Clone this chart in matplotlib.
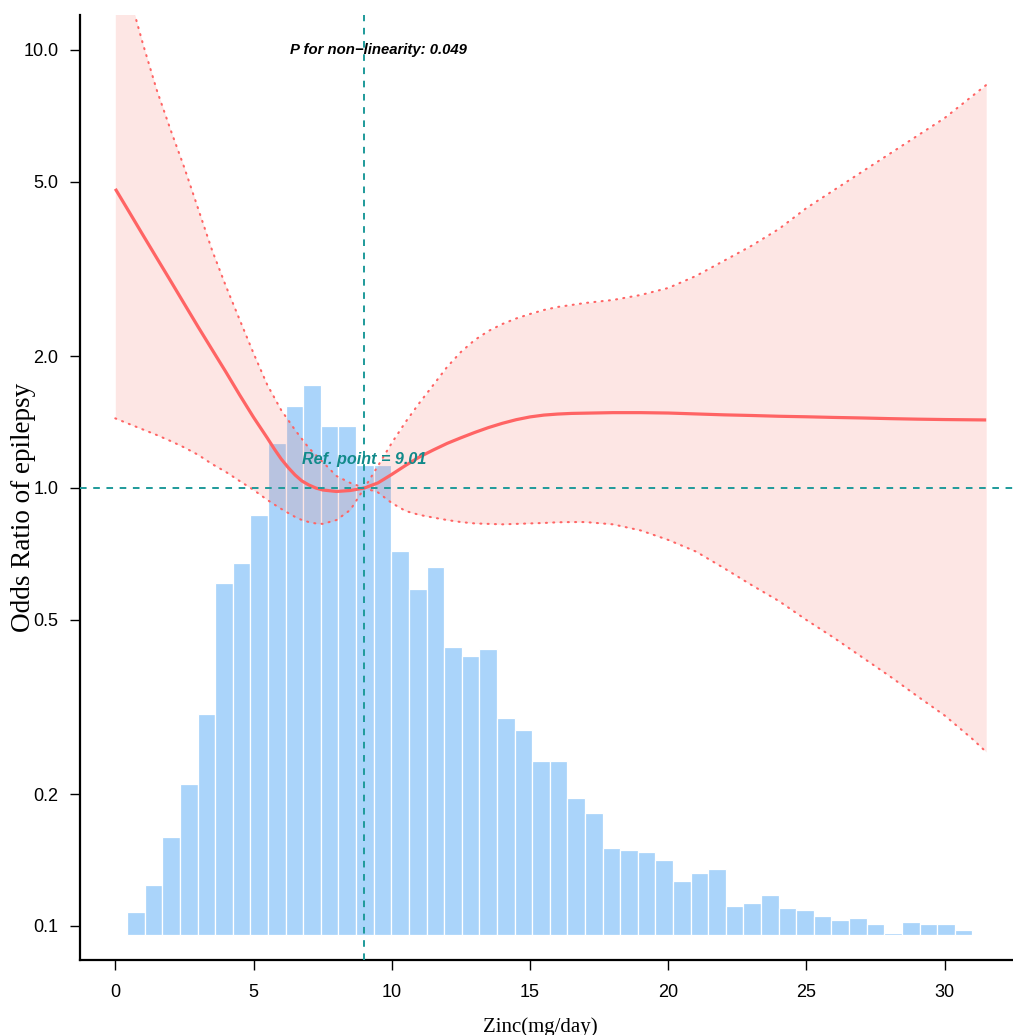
import numpy as np
import matplotlib
matplotlib.use("Agg")
import matplotlib.pyplot as plt

# ---------------- data ----------------
zinc = [0, 0.5, 1, 1.5, 2, 2.5, 3, 3.5, 4, 4.5, 5, 5.5,
        5.75, 6, 6.25, 6.5, 6.75, 7, 7.25, 7.5,
        8, 8.5, 9.01,
        9.5, 10, 10.5, 11, 11.5, 12, 12.5, 13, 13.5, 14,
        14.5, 15, 15.5, 16, 16.5, 17,
        18, 19, 20, 21, 22, 23, 24, 25, 26, 27, 28, 29, 30, 31,
        31.5]
or_fit = [4.82, 4.27, 3.78, 3.35, 2.97, 2.63, 2.33, 2.07, 1.84, 1.63, 1.45, 1.30,
          1.228, 1.165, 1.114, 1.071, 1.0375, 1.016, 1.0, 0.9895,
          0.9818, 0.9869, 1.0,
          1.027, 1.074, 1.126, 1.177, 1.221, 1.264, 1.302, 1.339, 1.374, 1.405,
          1.432, 1.453, 1.467, 1.475, 1.480, 1.482,
          1.486, 1.486, 1.483, 1.476, 1.469, 1.464, 1.458, 1.454, 1.449, 1.445,
          1.440, 1.436, 1.433, 1.431,
          1.430]
or_upper = [17.5, 13.4, 10.32, 8.10, 6.57, 5.38, 4.335, 3.49, 2.89, 2.42, 2.03, 1.718,
            1.609, 1.506, 1.430, 1.357, 1.294, 1.234, 1.190, 1.147,
            1.065, 1.027, 1.0,
            1.123, 1.267, 1.415, 1.564, 1.718, 1.889, 2.044, 2.177, 2.283, 2.368,
            2.438, 2.496, 2.549, 2.590, 2.617, 2.645,
            2.687, 2.758, 2.862, 3.048, 3.298, 3.569, 3.902, 4.357, 4.790, 5.267,
            5.789, 6.364, 6.995, 7.852,
            8.319]
or_lower = [1.442, 1.400, 1.360, 1.321, 1.280, 1.237, 1.190, 1.134, 1.088, 1.037, 0.990, 0.939,
            0.917, 0.896, 0.877, 0.859, 0.845, 0.836, 0.830, 0.828,
            0.845, 0.891, 1.0,
            0.977, 0.924, 0.886, 0.868, 0.856, 0.845, 0.836, 0.830, 0.828, 0.826,
            0.828, 0.830, 0.832, 0.835, 0.836, 0.836,
            0.826, 0.800, 0.761, 0.716, 0.657, 0.601, 0.552, 0.4995, 0.4546, 0.4113,
            0.3722, 0.335, 0.3023, 0.2673,
            0.2496]

hist_counts = [23, 50, 98, 151, 221, 352, 372, 420, 492, 529,
               550, 509, 509, 470, 470, 384, 346, 368, 288, 279,
               286, 217, 205, 174, 174, 137, 122, 87, 85, 83,
               75, 54, 62, 66, 29, 32, 40, 27, 25, 19,
               15, 17, 11, 2, 13, 11, 11, 5]
hist_min, hist_max = 0.43, 31.0

ref_point = 9.01
p_text = "P for non\u2212linearity: 0.049"
ref_text = "Ref. point = 9.01"
y_ticks = [0.1, 0.2, 0.5, 1.0, 2.0, 5.0, 10.0]
y_ticklabels = ["0.1", "0.2", "0.5", "1.0", "2.0", "5.0", "10.0"]
x_ticks = [0, 5, 10, 15, 20, 25, 30]

# ---------------- figure ----------------
W, H = 1013, 1035
fig = plt.figure(figsize=(W / 100, H / 100), dpi=100)
rect = [80 / W, 75 / H, 933 / W, 945 / H]
xlim = (-1.277, 32.47)

sans = ["Liberation Sans", "Arial", "DejaVu Sans"]
serif = ["Liberation Serif", "Times New Roman", "DejaVu Serif"]

# histogram axes (underneath)
axh = fig.add_axes(rect)
edges = np.linspace(hist_min, hist_max, len(hist_counts) + 1)
axh.bar(edges[:-1], hist_counts, width=np.diff(edges), align="edge",
        color="#AAD4FA", edgecolor="white", linewidth=0.9, zorder=1)
axh.set_xlim(*xlim)
axh.set_ylim(-25, 920)
axh.axis("off")

# main log axes on top
ax = fig.add_axes(rect)
ax.set_facecolor("none")
ax.set_yscale("log")
ax.set_xlim(*xlim)
ax.set_ylim(0.08362, 12.02)

red = "#FF6464"
ax.fill_between(zinc, or_lower, or_upper, color="#F8766D", alpha=0.18,
                linewidth=0, zorder=2)
for band in (or_upper, or_lower):
    ax.plot(zinc, band, color=red, lw=1.5, linestyle=(0, (0.5, 3.0)),
            dash_capstyle="round", zorder=3)
ax.plot(zinc, or_fit, color=red, lw=2.3, solid_capstyle="butt",
        solid_joinstyle="round", zorder=4)

teal = "#1E9A9A"
ax.axhline(1.0, color=teal, lw=1.4, dashes=(3.4, 3.4), zorder=5)
ax.axvline(ref_point, color=teal, lw=1.4, dashes=(3.4, 3.4), zorder=5)

ax.text(9.5, 10.0, p_text, ha="center", va="center", fontsize=10.7,
        fontweight="bold", fontstyle="italic", family=sans, color="black", zorder=6)
ax.text(ref_point, 1.159, ref_text, ha="center", va="center", fontsize=11.6,
        fontweight="bold", fontstyle="italic", family=sans, color="#118A8A", zorder=6)

# axes styling
for s in ["top", "right"]:
    ax.spines[s].set_visible(False)
for s in ["left", "bottom"]:
    ax.spines[s].set_linewidth(1.6)
ax.set_yticks(y_ticks)
ax.set_yticklabels(y_ticklabels)
ax.yaxis.set_minor_locator(matplotlib.ticker.NullLocator())
ax.set_xticks(x_ticks)
ax.set_xticklabels([str(v) for v in x_ticks])
ax.tick_params(axis="both", direction="out", length=7.5, width=1.0)
ax.tick_params(axis="y", pad=8)
ax.tick_params(axis="x", pad=9.5)
for lab in ax.get_xticklabels() + ax.get_yticklabels():
    lab.set_fontfamily(sans)
    lab.set_fontsize(13)

fig.text(540 / W, 3 / H, "Zinc(mg/day)", ha="center", va="baseline",
         fontsize=15, family=serif)
fig.text(23 / W, 1 - 507 / H, "Odds Ratio of epilepsy", ha="center", va="center",
         rotation=90, fontsize=19.5, family=serif)

fig.savefig("out.png", dpi=100)
